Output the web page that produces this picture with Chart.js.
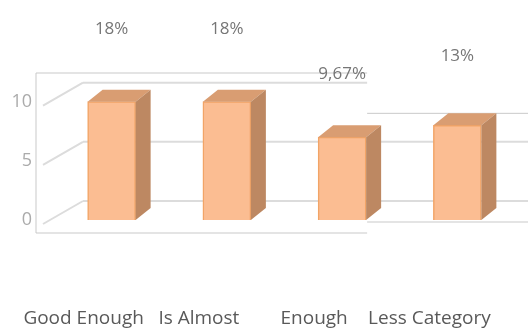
<!DOCTYPE html>
<html>
<head>
<meta charset="utf-8">
<script src="https://cdn.jsdelivr.net/npm/chart.js@4/dist/chart.umd.min.js"></script>
<style>
    html, body { margin: 0; padding: 0; background: #fff; }
    #wrap { width: 528px; height: 329px; }
</style>
</head>
<body>
<div id="wrap"><canvas id="chart" width="528" height="329"></canvas></div>
<script>
// Data
const categories = ['Good Enough', 'Is Almost', 'Enough', 'Less Category'];
const barValues = [10, 10, 7, 8];
const pctValues = [18, 18, 9.67, 13];
const yTicks = [0, 5, 10];

const fmtPct = (v) => (Number.isInteger(v) ? String(v) : v.toFixed(2).replace('.', ',')) + '%';

// fake 3D: depth of the bars and of the floor/back wall
const BAR_DX = 15, BAR_DY = -12;
const GRID_FRONT = { dx: -11, dy: 4 };
const GRID_BACK = { dx: 29, dy: -19 };

const line = (ctx, x1, y1, x2, y2) => {
    ctx.beginPath();
    ctx.moveTo(x1, y1);
    ctx.lineTo(x2, y2);
    ctx.stroke();
};

const depthPlugin = {
    id: 'depth3d',
    beforeDatasetsDraw(chart) {
        const { ctx, chartArea: a, scales: { y } } = chart;
        const bars = chart.getDatasetMeta(0).data;
        const split = bars[2].x + bars[2].width / 2 + 1;
        const panelTop = bars[3].y + BAR_DY;
        const panelBottom = a.bottom + 2;

        ctx.save();
        // panels
        ctx.strokeStyle = '#c9c9c9';
        ctx.lineWidth = 1;
        const boxL = a.left - 18, boxT = a.top - 5, boxB = a.bottom + 13;
        line(ctx, boxL, boxT, split, boxT);
        line(ctx, boxL, boxT, boxL, boxB);
        line(ctx, boxL, boxB, split, boxB);
        line(ctx, split, panelTop, chart.width, panelTop);
        line(ctx, split, panelBottom, chart.width, panelBottom);

        // gridlines: diagonal on the side wall, then along the back wall
        ctx.strokeStyle = '#dcdcdc';
        ctx.lineWidth = 2;
        yTicks.forEach(v => {
            const py = y.getPixelForValue(v);
            const fx = a.left + GRID_FRONT.dx, fy = py + GRID_FRONT.dy;
            const bx = a.left + GRID_BACK.dx, by = py + GRID_BACK.dy;
            line(ctx, fx, fy, bx, by);
            line(ctx, bx, by, by < panelTop ? split : chart.width, by);
        });
        ctx.restore();
    },
    afterDatasetsDraw(chart) {
        const { ctx } = chart;
        ctx.save();
        chart.getDatasetMeta(0).data.forEach(bar => {
            const l = bar.x - bar.width / 2, r = bar.x + bar.width / 2;
            const top = bar.y, base = bar.base;
            // top face
            ctx.fillStyle = '#d99d72';
            ctx.beginPath();
            ctx.moveTo(l, top);
            ctx.lineTo(l + BAR_DX, top + BAR_DY);
            ctx.lineTo(r + BAR_DX, top + BAR_DY);
            ctx.lineTo(r, top);
            ctx.closePath();
            ctx.fill();
            // side face
            ctx.fillStyle = '#bd8862';
            ctx.beginPath();
            ctx.moveTo(r, top);
            ctx.lineTo(r + BAR_DX, top + BAR_DY);
            ctx.lineTo(r + BAR_DX, base + BAR_DY);
            ctx.lineTo(r, base);
            ctx.closePath();
            ctx.fill();
        });

        // percentage labels sit on the hidden second series
        ctx.fillStyle = '#767676';
        ctx.font = "17px 'Open Sans'";
        ctx.textAlign = 'center';
        ctx.textBaseline = 'middle';
        chart.getDatasetMeta(1).data.forEach((pt, i) => {
            ctx.fillText(fmtPct(pctValues[i]), pt.x, pt.y);
        });
        ctx.restore();
    }
};

new Chart(document.getElementById('chart'), {
    type: 'bar',
    data: {
        labels: categories,
        datasets: [
            {
                label: 'values',
                data: barValues,
                backgroundColor: '#fbbd92',
                borderColor: '#f2a466',
                borderWidth: 1.5,
                barThickness: 48,
                order: 1
            },
            {
                type: 'line',
                label: 'pct',
                data: pctValues,
                yAxisID: 'y2',
                showLine: false,
                pointRadius: 0,
                clip: false,
                order: 0
            }
        ]
    },
    options: {
        responsive: false,
        animation: false,
        layout: { padding: { top: 78, right: 13, bottom: 0, left: 0 } },
        plugins: {
            legend: { display: false },
            tooltip: { enabled: false }
        },
        scales: {
            x: {
                grid: { display: false },
                border: { display: false },
                ticks: {
                    color: '#595959',
                    font: { family: 'Open Sans', size: 19 },
                    padding: 79,
                    labelOffset: -28,
                    maxRotation: 0,
                    autoSkip: false
                },
                afterFit: (s) => {
                    s.height = 109;
                    s.paddingLeft = 0;
                    s.paddingRight = 0;
                }
            },
            y: {
                min: 0,
                max: 12,
                grid: { display: false, drawTicks: false },
                border: { display: false },
                afterBuildTicks: (s) => { s.ticks = yTicks.map(v => ({ value: v })); },
                ticks: {
                    color: '#ababab',
                    font: { family: 'Open Sans', size: 18 },
                    padding: 22
                },
                afterFit: (s) => {
                    s.width = 54;
                    s.paddingTop = 0;
                    s.paddingBottom = 0;
                }
            },
            y2: {
                display: false,
                min: -17.2,
                max: 9.04
            }
        }
    },
    plugins: [depthPlugin]
});
</script>
</body>
</html>
